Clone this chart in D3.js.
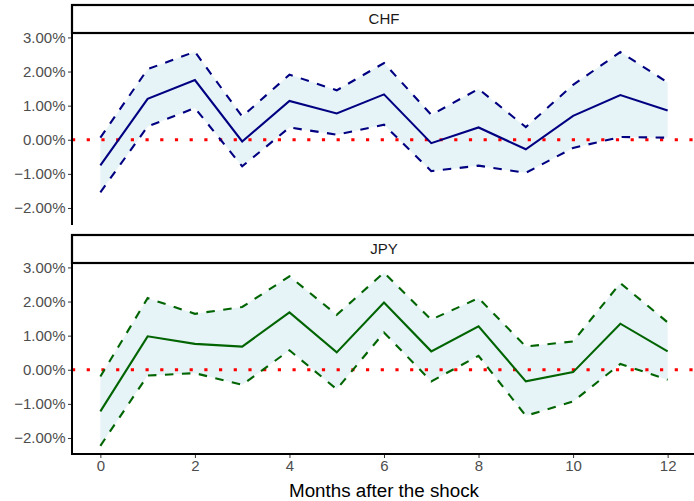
<!DOCTYPE html>
<html><head><meta charset="utf-8">
<script src="https://cdn.jsdelivr.net/npm/d3@7"></script>
<style>body{margin:0;background:#fff}svg{display:block}</style>
</head><body>
<script>
const months = [0,1,2,3,4,5,6,7,8,9,10,11,12];
const panels = ["CHF","JPY"];
const chfMean  = [-0.75,1.20,1.75,-0.05,1.14,0.77,1.33,-0.10,0.36,-0.28,0.70,1.31,0.86];
const chfUpper = [0.06,2.07,2.58,0.68,1.91,1.45,2.25,0.73,1.49,0.37,1.61,2.57,1.68];
const chfLower = [-1.54,0.39,0.93,-0.78,0.36,0.15,0.44,-0.92,-0.76,-0.97,-0.24,0.08,0.06];
const jpyMean  = [-1.22,0.98,0.76,0.68,1.68,0.51,1.97,0.54,1.27,-0.34,-0.07,1.35,0.54];
const jpyUpper = [-0.20,2.10,1.64,1.84,2.74,1.61,2.85,1.47,2.10,0.68,0.83,2.54,1.39];
const jpyLower = [-2.23,-0.17,-0.10,-0.44,0.57,-0.57,1.09,-0.34,0.41,-1.35,-0.93,0.17,-0.29];
const yTicks = [-2,-1,0,1,2,3];
const xTicks = [0,2,4,6,8,10,12];
const colors = {CHF:"#000080", JPY:"#006400"};
const series = {
  CHF:{mean:chfMean, upper:chfUpper, lower:chfLower},
  JPY:{mean:jpyMean, upper:jpyUpper, lower:jpyLower}
};

const W=694,H=501;
const svg=d3.select("body").append("svg").attr("width",W).attr("height",H);
const left=72, right=696;
const x=d3.scaleLinear().domain([-0.6,12.6]).range([left,right]);
const panelBoxes=[{strip:[5,33],plot:[33,224]},{strip:[235,263],plot:[263,454]}];
const yDomain=[-2.47,3.13];
const font="Liberation Sans, Arial, Helvetica, sans-serif";

panels.forEach((p,i)=>{
  const b=panelBoxes[i];
  const y=d3.scaleLinear().domain(yDomain).range([b.plot[1],b.plot[0]]);
  const g=svg.append("g");
  const s=series[p];
  const data=months.map((m,k)=>({m,mean:s.mean[k],up:s.upper[k],lo:s.lower[k]}));
  g.append("path").datum(data)
    .attr("d",d3.area().x(d=>x(d.m)).y0(d=>y(d.lo)).y1(d=>y(d.up)))
    .attr("fill","#ADD8E6").attr("fill-opacity",0.3);
  g.append("line").attr("x1",left).attr("x2",W).attr("y1",y(0)).attr("y2",y(0))
    .attr("stroke","#FF0000").attr("stroke-width",3.2).attr("stroke-dasharray","3.2 11.5");
  ["up","lo"].forEach(k=>{
    g.append("path").datum(data)
      .attr("d",d3.line().x(d=>x(d.m)).y(d=>y(d[k])))
      .attr("fill","none").attr("stroke",colors[p]).attr("stroke-width",2.1)
      .attr("stroke-dasharray","8.5 8.5");
  });
  g.append("path").datum(data)
    .attr("d",d3.line().x(d=>x(d.m)).y(d=>y(d.mean)))
    .attr("fill","none").attr("stroke",colors[p]).attr("stroke-width",2.1);
  const ya=g.append("g").attr("transform",`translate(${left},0)`)
    .call(d3.axisLeft(y).tickValues(yTicks).tickSize(4).tickPadding(2.5)
      .tickFormat(d=>d3.format(".2f")(d).replace("-","\u2212")+"%"));
  ya.select(".domain").remove();
  ya.selectAll(".tick line").attr("stroke","#333").attr("stroke-width",1);
  ya.selectAll("text").attr("fill","#4D4D4D").style("font-family",font).style("font-size","15px");
  g.append("line").attr("x1",left).attr("x2",left).attr("y1",b.plot[0]).attr("y2",b.plot[1]+1)
    .attr("stroke","#000").attr("stroke-width",2);
  g.append("rect").attr("x",left).attr("y",b.strip[0]).attr("width",W-left+5).attr("height",b.strip[1]-b.strip[0])
    .attr("fill","#fff").attr("stroke","#000").attr("stroke-width",2.2);
  g.append("text").attr("x",(left+right)/2).attr("y",(b.strip[0]+b.strip[1])/2).attr("dy","0.35em")
    .attr("text-anchor","middle").style("font-family",font).style("font-size","15px").attr("fill","#1A1A1A").text(p);
  if(i===1){
    const xa=g.append("g").attr("transform",`translate(0,${b.plot[1]})`)
      .call(d3.axisBottom(x).tickValues(xTicks).tickSize(4).tickPadding(2));
    xa.select(".domain").remove();
    xa.selectAll(".tick line").attr("stroke","#333");
    xa.selectAll("text").attr("fill","#4D4D4D").style("font-family",font).style("font-size","15px");
    g.append("line").attr("x1",left-1).attr("x2",W).attr("y1",b.plot[1]).attr("y2",b.plot[1])
      .attr("stroke","#000").attr("stroke-width",2);
  }
});
svg.append("text").attr("x",(left+right)/2).attr("y",496.5).attr("text-anchor","middle")
  .style("font-family",font).style("font-size","18.8px").attr("fill","#000").text("Months after the shock");
</script>
</body></html>
